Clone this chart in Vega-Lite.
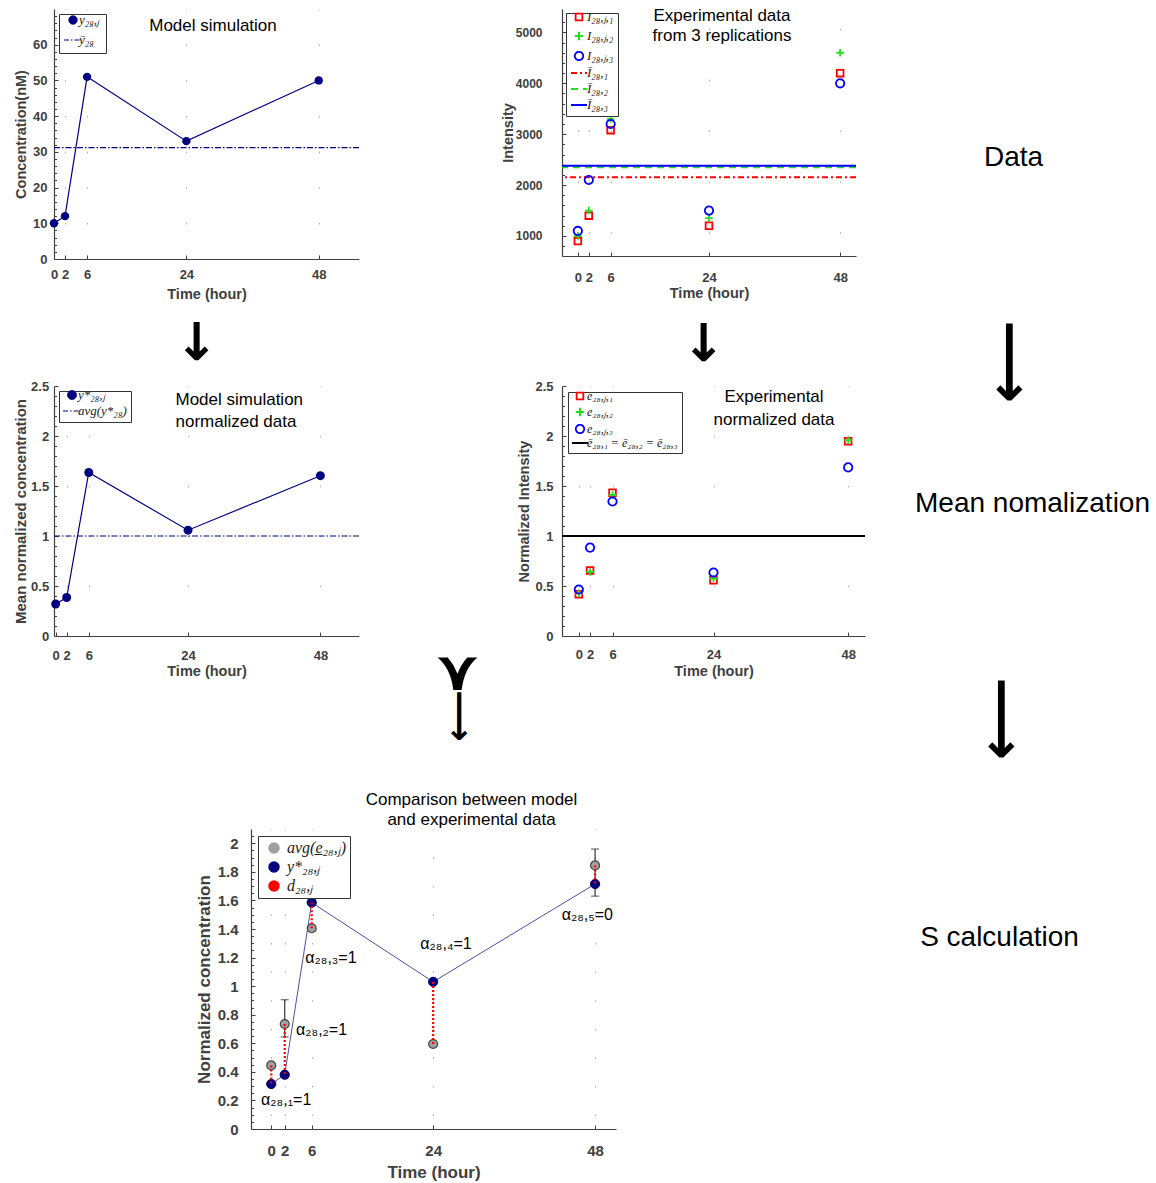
{
  "$schema": "https://vega.github.io/schema/vega-lite/v6.json",
  "background": "white",
  "padding": {"left": 12, "top": 6, "right": 0, "bottom": 0},
  "spacing": 0,
  "resolve": {"scale": {"color": "independent", "shape": "independent", "size": "independent", "strokeDash": "independent"}},
  "config": {
    "font": "Liberation Sans",
    "view": {"stroke": null},
    "axis": {
      "domainColor": "#404040", "domainWidth": 1.2,
      "tickColor": "#404040", "tickSize": -4, "tickWidth": 1,
      "labelColor": "#404040", "labelFont": "Liberation Sans", "labelFontSize": 13, "labelFontWeight": "bold", "labelPadding": 7,
      "titleColor": "#404040", "titleFont": "Liberation Sans", "titleFontSize": 14.5, "titleFontWeight": "bold", "titlePadding": 4,
      "grid": false, "labelFlush": false, "labelOverlap": false
    },
    "axisY": {"titleBaseline": "middle"},
    "legend": {
      "labelFont": "Liberation Serif", "labelFontStyle": "italic", "labelFontSize": 13, "labelColor": "#222",
      "strokeColor": "#333", "fillColor": "white", "padding": 4, "rowPadding": 1,
      "orient": "top-left", "offset": 5, "symbolStrokeWidth": 1.5, "cornerRadius": 0
    },
    "title": {"font": "Liberation Sans", "fontSize": 17, "fontWeight": "normal", "color": "#000", "baseline": "alphabetic", "frame": "group"}
  },
  "datasets": {
    "model": [
      {"time": 0, "conc": 10, "series": "y₂₈,ⱼ"},
      {"time": 2, "conc": 12, "series": "y₂₈,ⱼ"},
      {"time": 6, "conc": 51, "series": "y₂₈,ⱼ"},
      {"time": 24, "conc": 33, "series": "y₂₈,ⱼ"},
      {"time": 48, "conc": 50, "series": "y₂₈,ⱼ"}
    ],
    "modelMean": [{"series": "ȳ₂₈", "conc": 31.2}],
    "intensity": [
      {"time": 0, "series": "I₂₈,ⱼ,₁", "value": 900},
      {"time": 2, "series": "I₂₈,ⱼ,₁", "value": 1400},
      {"time": 6, "series": "I₂₈,ⱼ,₁", "value": 3080},
      {"time": 24, "series": "I₂₈,ⱼ,₁", "value": 1200},
      {"time": 48, "series": "I₂₈,ⱼ,₁", "value": 4200},
      {"time": 0, "series": "I₂₈,ⱼ,₂", "value": 1000},
      {"time": 2, "series": "I₂₈,ⱼ,₂", "value": 1500},
      {"time": 6, "series": "I₂₈,ⱼ,₂", "value": 3300},
      {"time": 24, "series": "I₂₈,ⱼ,₂", "value": 1350},
      {"time": 48, "series": "I₂₈,ⱼ,₂", "value": 4600},
      {"time": 0, "series": "I₂₈,ⱼ,₃", "value": 1100},
      {"time": 2, "series": "I₂₈,ⱼ,₃", "value": 2100},
      {"time": 6, "series": "I₂₈,ⱼ,₃", "value": 3200},
      {"time": 24, "series": "I₂₈,ⱼ,₃", "value": 1500},
      {"time": 48, "series": "I₂₈,ⱼ,₃", "value": 4000}
    ],
    "intensityMean": [
      {"series": "Ī₂₈,₁", "value": 2156},
      {"series": "Ī₂₈,₂", "value": 2350},
      {"series": "Ī₂₈,₃", "value": 2380}
    ],
    "modelNorm": [
      {"time": 0, "value": 0.32, "series": "y*₂₈,ⱼ"},
      {"time": 2, "value": 0.385, "series": "y*₂₈,ⱼ"},
      {"time": 6, "value": 1.635, "series": "y*₂₈,ⱼ"},
      {"time": 24, "value": 1.058, "series": "y*₂₈,ⱼ"},
      {"time": 48, "value": 1.603, "series": "y*₂₈,ⱼ"}
    ],
    "modelNormMean": [{"series": "avg(y*₂₈)", "value": 1}],
    "expNorm": [
      {"time": 0, "series": "e₂₈,ⱼ,₁", "value": 0.417},
      {"time": 2, "series": "e₂₈,ⱼ,₁", "value": 0.655},
      {"time": 6, "series": "e₂₈,ⱼ,₁", "value": 1.432},
      {"time": 24, "series": "e₂₈,ⱼ,₁", "value": 0.558},
      {"time": 48, "series": "e₂₈,ⱼ,₁", "value": 1.948},
      {"time": 0, "series": "e₂₈,ⱼ,₂", "value": 0.426},
      {"time": 2, "series": "e₂₈,ⱼ,₂", "value": 0.64},
      {"time": 6, "series": "e₂₈,ⱼ,₂", "value": 1.41},
      {"time": 24, "series": "e₂₈,ⱼ,₂", "value": 0.575},
      {"time": 48, "series": "e₂₈,ⱼ,₂", "value": 1.958},
      {"time": 0, "series": "e₂₈,ⱼ,₃", "value": 0.465},
      {"time": 2, "series": "e₂₈,ⱼ,₃", "value": 0.884},
      {"time": 6, "series": "e₂₈,ⱼ,₃", "value": 1.345},
      {"time": 24, "series": "e₂₈,ⱼ,₃", "value": 0.635},
      {"time": 48, "series": "e₂₈,ⱼ,₃", "value": 1.686}
    ],
    "expNormMean": [{"series": "ē₂₈,₁ = ē₂₈,₂ = ē₂₈,₃", "value": 1}],
    "comparison": [
      {"time": 0, "avg": 0.445, "lo": 0.43, "hi": 0.46, "model": 0.315},
      {"time": 2, "avg": 0.735, "lo": 0.645, "hi": 0.905, "model": 0.38},
      {"time": 6, "avg": 1.405, "lo": 1.385, "hi": 1.425, "model": 1.585},
      {"time": 24, "avg": 0.595, "lo": 0.58, "hi": 0.61, "model": 1.03},
      {"time": 48, "avg": 1.845, "lo": 1.63, "hi": 1.96, "model": 1.715}
    ],
    "alpha": [
      {"time": -1.5, "value": 0.203, "label": "α₂₈,₁=1"},
      {"time": 3.68, "value": 0.693, "label": "α₂₈,₂=1"},
      {"time": 5.05, "value": 1.197, "label": "α₂₈,₃=1"},
      {"time": 22.1, "value": 1.295, "label": "α₂₈,₄=1"},
      {"time": 43.06, "value": 1.498, "label": "α₂₈,₅=0"}
    ]
  },
  "hconcat": [
    {
      "spacing": 0,
      "resolve": {"scale": {"color": "independent", "shape": "independent", "size": "independent", "strokeDash": "independent"}},
      "vconcat": [
        {
          "hconcat": [
            {
              "width": 305, "height": 250,
              "title": {"text": "Model simulation", "anchor": "middle", "dx": 6.5, "offset": -25.8},
              "resolve": {"axis": {"y": "independent"}},
              "layer": [
                {
                  "data": {"name": "modelMean"},
                  "mark": {"type": "rule", "strokeWidth": 1.2, "strokeDash": [6, 2, 1.5, 2]},
                  "encoding": {
                    "y": {"field": "conc", "type": "quantitative", "scale": {"domain": [0, 70], "nice": false},
                      "axis": {"orient": "left", "title": "Concentration(nM)", "titleX": -33, "labelPadding": 11, "values": [0, 10, 20, 30, 40, 50, 60], "format": "d"}},
                    "color": {"field": "series", "type": "nominal", "scale": {"domain": ["y₂₈,ⱼ", "ȳ₂₈"], "range": ["#000080", "#000080"]},
                      "legend": {"title": null, "rowPadding": 7, "padding": 6, "encode": {
                        "symbols": {"update": {
                          "x": {"value": 8},
                          "shape": {"signal": "['circle','stroke'][datum.index]"},
                          "size": {"signal": "[70,324][datum.index]"},
                          "fill": {"signal": "['#000080','transparent'][datum.index]"},
                          "stroke": {"value": "#000080"},
                          "strokeWidth": {"signal": "[1,1.2][datum.index]"},
                          "strokeDash": {"signal": "[[1,0],[5,2,1.5,2]][datum.index]"},
                          "opacity": {"value": 1}
                        }},
                        "labels": {"update": {"dx": {"value": 14}}}
                      }}}
                  }
                },
                {
                  "data": {"name": "model"},
                  "mark": {"type": "line", "strokeWidth": 1.2},
                  "encoding": {
                    "x": {"field": "time", "type": "quantitative", "scale": {"domain": [0, 55.3], "nice": false, "zero": false},
                      "axis": {"title": "Time (hour)", "values": [0, 2, 6, 24, 48], "format": "d", "labelPadding": 13, "titlePadding": 6, "grid": true, "gridColor": "#aaaaaa", "gridDash": [1.5, 34.21], "gridDashOffset": 0.75}},
                    "y": {"field": "conc", "type": "quantitative", "axis": null},
                    "color": {"field": "series", "type": "nominal"}
                  }
                },
                {
                  "data": {"name": "model"},
                  "mark": {"type": "point", "filled": true, "size": 70, "opacity": 1},
                  "encoding": {
                    "x": {"field": "time", "type": "quantitative"},
                    "y": {"field": "conc", "type": "quantitative",
                      "axis": {"orient": "left", "title": null, "labels": false, "domain": false, "tickSize": -2.5, "values": [2,4,6,8,12,14,16,18,22,24,26,28,32,34,36,38,42,44,46,48,52,54,56,58,62,64,66,68]}},
                    "color": {"field": "series", "type": "nominal"}
                  }
                }
              ]
            },
            {
              "width": 294, "height": 247,
              "title": {"text": ["Experimental data", "from 3 replications"], "anchor": "middle", "dx": 13, "offset": -35.8, "lineHeight": 20},
              "resolve": {"axis": {"y": "independent"}},
              "layer": [
                {
                  "data": {"name": "intensityMean"},
                  "mark": {"type": "rule", "strokeWidth": 2},
                  "encoding": {
                    "y": {"field": "value", "type": "quantitative", "scale": {"domain": [607, 5460], "nice": false, "zero": false},
                      "axis": {"orient": "left", "title": "Intensity", "titleX": -54, "labelFontSize": 12, "labelPadding": 24, "values": [1000, 2000, 3000, 4000, 5000], "format": "d"}},
                    "color": {"field": "series", "type": "nominal",
                      "scale": {"domain": ["I₂₈,ⱼ,₁", "I₂₈,ⱼ,₂", "I₂₈,ⱼ,₃", "Ī₂₈,₁", "Ī₂₈,₂", "Ī₂₈,₃"], "range": ["#ff0000", "#22dd22", "#0000ff", "#ff0000", "#22dd22", "#0000ff"]},
                      "legend": {"title": null, "rowPadding": 3, "offset": 4, "encode": {
                        "symbols": {"update": {
                          "x": {"value": 9},
                          "shape": {"signal": "['square','M-1,0L1,0M0,-1L0,1','circle','stroke','stroke','stroke'][datum.index]"},
                          "size": {"signal": "[45,70,70,256,256,256][datum.index]"},
                          "fill": {"value": "transparent"},
                          "stroke": {"signal": "['#ff0000','#22dd22','#0000ff','#ff0000','#22dd22','#0000ff'][datum.index]"},
                          "strokeWidth": {"signal": "[1.8,2.2,1.8,2,2,2][datum.index]"},
                          "strokeDash": {"signal": "[[1,0],[1,0],[1,0],[6,3,2,3],[7,5],[1,0]][datum.index]"},
                          "opacity": {"value": 1}
                        }},
                        "labels": {"update": {"dx": {"value": 17}}}
                      }}},
                    "strokeDash": {"field": "series", "type": "nominal", "scale": {"domain": ["Ī₂₈,₁", "Ī₂₈,₂", "Ī₂₈,₃"], "range": [[6, 3, 2, 3], [7, 5], [1, 0]]}, "legend": null}
                  }
                },
                {
                  "data": {"name": "intensity"},
                  "mark": {"type": "point", "filled": false, "strokeWidth": 1.8, "opacity": 1},
                  "encoding": {
                    "x": {"field": "time", "type": "quantitative", "scale": {"domain": [-2.9, 50.9], "nice": false, "zero": false},
                      "axis": {"title": "Time (hour)", "values": [0, 2, 6, 24, 48], "format": "d", "labelPadding": 19.5, "titlePadding": 2, "grid": true, "gridColor": "#aaaaaa", "gridDash": [1.5, 49.4], "gridDashOffset": 31.65}},
                    "y": {"field": "value", "type": "quantitative",
                      "axis": {"orient": "left", "title": null, "labels": false, "domain": false, "tickSize": -2.5, "values": [800,1200,1400,1600,1800,2200,2400,2600,2800,3200,3400,3600,3800,4200,4400,4600,4800,5200]}},
                    "color": {"field": "series", "type": "nominal"},
                    "shape": {"field": "series", "type": "nominal", "scale": {"domain": ["I₂₈,ⱼ,₁", "I₂₈,ⱼ,₂", "I₂₈,ⱼ,₃"], "range": ["square", "M-1,0L1,0M0,-1L0,1", "circle"]}, "legend": null},
                    "size": {"field": "series", "type": "nominal", "scale": {"domain": ["I₂₈,ⱼ,₁", "I₂₈,ⱼ,₂", "I₂₈,ⱼ,₃"], "range": [45, 70, 80]}, "legend": null}
                  }
                }
              ]
            }
          ],
          "spacing": 203,
          "bounds": "flush",
          "resolve": {"scale": {"color": "independent", "shape": "independent", "size": "independent", "strokeDash": "independent"}}
        },
        {
          "hconcat": [
            {
              "width": 285, "height": 78.5,
              "data": {"values": [{"glyph": "↓"}]},
              "mark": {"type": "text", "fontSize": 52, "font": "DejaVu Sans", "fontWeight": "bold", "color": "#000", "dy": 3.5},
              "encoding": {"text": {"field": "glyph"}}
            },
            {
              "width": 160, "height": 78.5,
              "data": {"values": [{"glyph": "↓"}]},
              "mark": {"type": "text", "fontSize": 52, "font": "DejaVu Sans", "fontWeight": "bold", "color": "#000", "dy": 4.5},
              "encoding": {"text": {"field": "glyph"}}
            }
          ],
          "spacing": 284.5,
          "bounds": "flush"
        },
        {
          "hconcat": [
            {
              "width": 305, "height": 250,
              "title": {"text": ["Model simulation", "normalized data"], "anchor": "start", "dx": 121.5, "offset": -51, "lineHeight": 21.7},
              "resolve": {"axis": {"y": "independent"}},
              "layer": [
                {
                  "data": {"name": "modelNormMean"},
                  "mark": {"type": "rule", "strokeWidth": 1.2, "strokeDash": [6, 2, 1.5, 2]},
                  "encoding": {
                    "y": {"field": "value", "type": "quantitative", "scale": {"domain": [0, 2.5], "nice": false},
                      "axis": {"orient": "left", "title": "Mean normalized concentration", "titleFontSize": 15, "titleX": -34, "labelPadding": 9.3, "values": [0, 0.5, 1, 1.5, 2, 2.5], "format": "~g"}},
                    "color": {"field": "series", "type": "nominal", "scale": {"domain": ["y*₂₈,ⱼ", "avg(y*₂₈)"], "range": ["#000080", "#000080"]},
                      "legend": {"title": null, "rowPadding": 3, "encode": {
                        "symbols": {"update": {
                          "x": {"value": 9},
                          "shape": {"signal": "['circle','stroke'][datum.index]"},
                          "size": {"signal": "[80,324][datum.index]"},
                          "fill": {"signal": "['#000080','transparent'][datum.index]"},
                          "stroke": {"value": "#000080"},
                          "strokeWidth": {"signal": "[1,1.2][datum.index]"},
                          "strokeDash": {"signal": "[[1,0],[5,2,1.5,2]][datum.index]"},
                          "opacity": {"value": 1}
                        }},
                        "labels": {"update": {"dx": {"value": 15}}}
                      }}}
                  }
                },
                {
                  "data": {"name": "modelNorm"},
                  "mark": {"type": "line", "strokeWidth": 1.2},
                  "encoding": {
                    "x": {"field": "time", "type": "quantitative", "scale": {"domain": [-0.3, 55], "nice": false, "zero": false},
                      "axis": {"title": "Time (hour)", "values": [0, 2, 6, 24, 48], "format": "d", "labelPadding": 17.5, "titlePadding": 1.5, "grid": true, "gridColor": "#aaaaaa", "gridDash": [1.5, 48.5], "gridDashOffset": 0.75}},
                    "y": {"field": "value", "type": "quantitative", "axis": null},
                    "color": {"field": "series", "type": "nominal"}
                  }
                },
                {
                  "data": {"name": "modelNorm"},
                  "mark": {"type": "point", "filled": true, "size": 80, "opacity": 1},
                  "encoding": {
                    "x": {"field": "time", "type": "quantitative"},
                    "y": {"field": "value", "type": "quantitative",
                      "axis": {"orient": "left", "title": null, "labels": false, "domain": false, "tickSize": -2.5, "values": [0.1,0.2,0.3,0.4,0.6,0.7,0.8,0.9,1.1,1.2,1.3,1.4,1.6,1.7,1.8,1.9,2.1,2.2,2.3,2.4]}},
                    "color": {"field": "series", "type": "nominal"}
                  }
                }
              ]
            },
            {
              "width": 203, "height": 250,
              "layer": [
                {
                  "data": {"values": [{"glyph": "⋎"}]},
                  "mark": {"type": "text", "fontSize": 56, "font": "DejaVu Sans", "fontWeight": "bold", "color": "#000", "dx": -3, "dy": 161.5},
                  "encoding": {"text": {"field": "glyph"}}
                },
                {
                  "data": {"values": [{"glyph": "⟶"}]},
                  "mark": {"type": "text", "fontSize": 36, "font": "DejaVu Sans", "fontWeight": "bold", "color": "#000", "angle": 90, "dx": 205, "dy": 2},
                  "encoding": {"text": {"field": "glyph"}}
                }
              ]
            },
            {
              "width": 303, "height": 250,
              "title": {"text": ["Experimental", "normalized data"], "anchor": "middle", "dx": 60.5, "offset": -48.8, "lineHeight": 22.6},
              "resolve": {"axis": {"y": "independent"}},
              "layer": [
                {
                  "data": {"name": "expNormMean"},
                  "mark": {"type": "rule", "strokeWidth": 2},
                  "encoding": {
                    "y": {"field": "value", "type": "quantitative", "scale": {"domain": [0, 2.5], "nice": false},
                      "axis": {"orient": "left", "title": "Normalized Intensity", "titleX": -38, "labelPadding": 13, "values": [0, 0.5, 1, 1.5, 2, 2.5], "format": "~g"}},
                    "color": {"field": "series", "type": "nominal",
                      "scale": {"domain": ["e₂₈,ⱼ,₁", "e₂₈,ⱼ,₂", "e₂₈,ⱼ,₃", "ē₂₈,₁ = ē₂₈,₂ = ē₂₈,₃"], "range": ["#ff0000", "#22dd22", "#0000ff", "#000000"]},
                      "legend": {"title": null, "rowPadding": 0, "labelFontSize": 12, "offset": 6, "encode": {
                        "symbols": {"update": {
                          "x": {"value": 8},
                          "shape": {"signal": "['square','M-1,0L1,0M0,-1L0,1','circle','stroke'][datum.index]"},
                          "size": {"signal": "[45,70,70,256][datum.index]"},
                          "fill": {"value": "transparent"},
                          "stroke": {"signal": "['#ff0000','#22dd22','#0000ff','#000000'][datum.index]"},
                          "strokeWidth": {"signal": "[1.8,2.2,1.8,2][datum.index]"},
                          "strokeDash": {"value": [1, 0]},
                          "opacity": {"value": 1}
                        }},
                        "labels": {"update": {"dx": {"value": 15}}}
                      }}}
                  }
                },
                {
                  "data": {"name": "expNorm"},
                  "mark": {"type": "point", "filled": false, "strokeWidth": 1.8, "opacity": 1},
                  "encoding": {
                    "x": {"field": "time", "type": "quantitative", "scale": {"domain": [-3, 51], "nice": false, "zero": false},
                      "axis": {"title": "Time (hour)", "values": [0, 2, 6, 24, 48], "format": "d", "labelPadding": 16.3, "titlePadding": 3.5, "grid": true, "gridColor": "#aaaaaa", "gridDash": [1.5, 48.5], "gridDashOffset": 0.75}},
                    "y": {"field": "value", "type": "quantitative",
                      "axis": {"orient": "left", "title": null, "labels": false, "domain": false, "tickSize": -2.5, "values": [0.1,0.2,0.3,0.4,0.6,0.7,0.8,0.9,1.1,1.2,1.3,1.4,1.6,1.7,1.8,1.9,2.1,2.2,2.3,2.4]}},
                    "color": {"field": "series", "type": "nominal"},
                    "shape": {"field": "series", "type": "nominal", "scale": {"domain": ["e₂₈,ⱼ,₁", "e₂₈,ⱼ,₂", "e₂₈,ⱼ,₃"], "range": ["square", "M-1,0L1,0M0,-1L0,1", "circle"]}, "legend": null},
                    "size": {"field": "series", "type": "nominal", "scale": {"domain": ["e₂₈,ⱼ,₁", "e₂₈,ⱼ,₂", "e₂₈,ⱼ,₃"], "range": [45, 70, 80]}, "legend": null}
                  }
                }
              ]
            }
          ],
          "spacing": 0,
          "bounds": "flush",
          "resolve": {"scale": {"color": "independent", "shape": "independent", "size": "independent", "strokeDash": "independent"}}
        },
        {"width": 10, "height": 47.3, "data": {"values": []}, "mark": "point", "encoding": {}},
        {
          "hconcat": [
            {"width": 196.5, "height": 300, "data": {"values": []}, "mark": "point", "encoding": {}},
            {
              "width": 365, "height": 300,
              "title": {"text": ["Comparison between model", "and experimental data"], "anchor": "middle", "dx": 38, "offset": 0.5, "lineHeight": 20},
              "resolve": {"axis": {"y": "independent"}},
              "layer": [
                {
                  "data": {"name": "comparison"},
                  "mark": {"type": "rule", "color": "#333333", "strokeWidth": 1.2},
                  "encoding": {
                    "x": {"field": "time", "type": "quantitative", "scale": {"domain": [-3, 51.1], "nice": false, "zero": false},
                      "axis": {"title": "Time (hour)", "titleFontSize": 17, "labelFontSize": 15, "labelPadding": 18, "titlePadding": 6.5, "values": [0, 2, 6, 24, 48], "format": "d", "grid": true, "gridColor": "#aaaaaa", "gridDash": [1.5, 27.07], "gridDashOffset": 0.75}},
                    "y": {"field": "lo", "type": "quantitative", "scale": {"domain": [0, 2.1], "nice": false},
                      "axis": {"orient": "left", "title": "Normalized concentration", "titleFontSize": 17, "labelFontSize": 15, "titleX": -46.5, "labelPadding": 17, "values": [0, 0.2, 0.4, 0.6, 0.8, 1, 1.2, 1.4, 1.6, 1.8, 2], "format": "~g"}},
                    "y2": {"field": "hi"}
                  }
                },
                {
                  "data": {"name": "comparison"},
                  "mark": {"type": "tick", "orient": "horizontal", "size": 8, "thickness": 1.2, "color": "#333333"},
                  "encoding": {"x": {"field": "time", "type": "quantitative"}, "y": {"field": "lo", "type": "quantitative", "axis": null}}
                },
                {
                  "data": {"name": "comparison"},
                  "mark": {"type": "tick", "orient": "horizontal", "size": 8, "thickness": 1.2, "color": "#333333"},
                  "encoding": {"x": {"field": "time", "type": "quantitative"}, "y": {"field": "hi", "type": "quantitative",
                    "axis": {"orient": "left", "title": null, "labels": false, "domain": false, "tickSize": -2.5, "values": [0.05,0.1,0.15,0.25,0.3,0.35,0.45,0.5,0.55,0.65,0.7,0.75,0.85,0.9,0.95,1.05,1.1,1.15,1.25,1.3,1.35,1.45,1.5,1.55,1.65,1.7,1.75,1.85,1.9,1.95,2.05]}}}
                },
                {
                  "data": {"name": "comparison"},
                  "mark": {"type": "point", "filled": true, "size": 80, "opacity": 1, "stroke": "#444444", "strokeWidth": 1.2},
                  "encoding": {
                    "x": {"field": "time", "type": "quantitative"},
                    "y": {"field": "avg", "type": "quantitative", "axis": null},
                    "color": {"datum": "avg(e̲₂₈,ⱼ)", "type": "nominal",
                      "scale": {"domain": ["avg(e̲₂₈,ⱼ)", "y*₂₈,ⱼ", "d₂₈,ⱼ"], "range": ["#a0a0a0", "#000080", "#ff0000"]},
                      "legend": {"title": null, "rowPadding": 3, "labelFontSize": 16, "offset": 7, "symbolOffset": 4, "labelOffset": 5, "encode": {"symbols": {"update": {
                        "shape": {"signal": "['circle','circle','stroke'][datum.index]"},
                        "size": {"signal": "[80,80,256][datum.index]"},
                        "fill": {"signal": "['#a0a0a0','#000080','transparent'][datum.index]"},
                        "stroke": {"signal": "['#444444','#000080','#ff0000'][datum.index]"},
                        "strokeWidth": {"signal": "[1.2,1,2.5][datum.index]"},
                        "strokeDash": {"signal": "[[1,0],[1,0],[2,2]][datum.index]"},
                        "opacity": {"value": 1}
                      }}}}}
                  }
                },
                {
                  "data": {"name": "comparison"},
                  "mark": {"type": "line", "strokeWidth": 0.9, "color": "#3a3a9a"},
                  "encoding": {
                    "x": {"field": "time", "type": "quantitative"},
                    "y": {"field": "model", "type": "quantitative", "axis": null}
                  }
                },
                {
                  "data": {"name": "comparison"},
                  "mark": {"type": "point", "filled": true, "size": 85, "opacity": 1, "stroke": "#000060", "strokeWidth": 1},
                  "encoding": {
                    "x": {"field": "time", "type": "quantitative"},
                    "y": {"field": "model", "type": "quantitative", "axis": null},
                    "color": {"datum": "y*₂₈,ⱼ", "type": "nominal"}
                  }
                },
                {
                  "data": {"name": "comparison"},
                  "mark": {"type": "rule", "strokeWidth": 2.2, "strokeDash": [2, 2]},
                  "encoding": {
                    "x": {"field": "time", "type": "quantitative"},
                    "y": {"field": "avg", "type": "quantitative", "axis": null},
                    "y2": {"field": "model"},
                    "color": {"datum": "d₂₈,ⱼ", "type": "nominal"}
                  }
                },
                {
                  "data": {"name": "alpha"},
                  "mark": {"type": "text", "align": "left", "baseline": "middle", "fontSize": 16, "font": "Liberation Sans", "color": "#000"},
                  "encoding": {
                    "x": {"field": "time", "type": "quantitative"},
                    "y": {"field": "value", "type": "quantitative", "axis": null},
                    "text": {"field": "label"}
                  }
                }
              ]
            }
          ],
          "spacing": 0,
          "bounds": "flush",
          "resolve": {"scale": {"color": "independent", "shape": "independent", "size": "independent", "strokeDash": "independent"}}
        }
      ]
    },
    {
      "width": 285, "height": 1119,
      "layer": [
        {
          "data": {"values": [{"label": "Data"}]},
          "mark": {"type": "text", "fontSize": 28, "font": "Liberation Sans", "color": "#000", "dx": 5, "dy": -410.5},
          "encoding": {"text": {"field": "label"}}
        },
        {
          "data": {"values": [{"glyph": "⟶"}]},
          "mark": {"type": "text", "fontSize": 58, "font": "DejaVu Sans", "fontWeight": "bold", "color": "#000", "angle": 90, "dx": -206.5, "dy": 1},
          "encoding": {"text": {"field": "glyph"}}
        },
        {
          "data": {"values": [{"label": "Mean nomalization"}]},
          "mark": {"type": "text", "fontSize": 28, "font": "Liberation Sans", "color": "#000", "dx": 24, "dy": -64.5},
          "encoding": {"text": {"field": "label"}}
        },
        {
          "data": {"values": [{"glyph": "⟶"}]},
          "mark": {"type": "text", "fontSize": 58, "font": "DejaVu Sans", "fontWeight": "bold", "color": "#000", "angle": 90, "dx": 150.5, "dy": 9},
          "encoding": {"text": {"field": "glyph"}}
        },
        {
          "data": {"values": [{"label": "S calculation"}]},
          "mark": {"type": "text", "fontSize": 28, "font": "Liberation Sans", "color": "#000", "dx": -9, "dy": 369.5},
          "encoding": {"text": {"field": "label"}}
        }
      ]
    }
  ]
}
